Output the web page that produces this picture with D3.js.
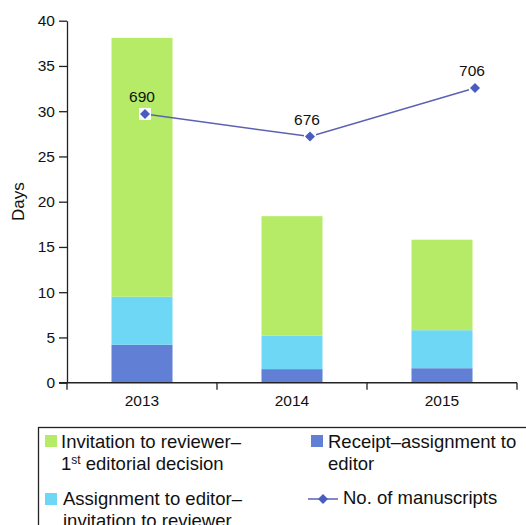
<!DOCTYPE html>
<html>
<head>
<meta charset="utf-8">
<script src="https://cdn.jsdelivr.net/npm/d3@7"></script>
<style>
body { margin: 0; background: #fff; }
svg { display: block; font-family: "Liberation Sans", Arial, sans-serif; }
</style>
</head>
<body>
<div id="chart"></div>
<script>
let years = ['2013', '2014', '2015']
let receipt = [4.2, 1.5, 1.6]
let assignment = [5.3, 3.7, 4.2]
let invitation = [28.6, 13.2, 10.0]
let manuscripts = [690, 676, 706]
let yTicks = [0, 5, 10, 15, 20, 25, 30, 35, 40]

let width = 526, height = 525
let svg = d3.select('#chart').append('svg')
    .attr('width', width)
    .attr('height', height)

let colors = {
    receipt: '#617fd4',
    assignment: '#6dd7f5',
    invitation: '#b5eb67',
    line: '#5b61b3',
    marker: '#4a5cbf'
}

let x = d3.scaleBand()
    .domain(years)
    .range([67, 517])
    .paddingInner(0)
    .paddingOuter(0)

let y = d3.scaleLinear()
    .domain([0, 40])
    .range([382.7, 20.7])

// secondary (hidden) scale for manuscript counts
let y2 = d3.scaleLinear()
    .domain([523.7, 747.7])
    .range([382.7, 20.7])

let xLine = d3.scalePoint()
    .domain(years)
    .range([145, 475])

let rows = years.map((year, i) => ({
    year,
    receipt: receipt[i],
    assignment: assignment[i],
    invitation: invitation[i]
}))

let stack = d3.stack().keys(['receipt', 'assignment', 'invitation'])(rows)
let barWidth = 61

svg.append('g')
    .selectAll('g')
    .data(stack)
    .enter()
    .append('g')
        .attr('fill', d => colors[d.key])
    .selectAll('rect')
    .data(d => d)
    .enter()
    .append('rect')
        .attr('x', d => x(d.data.year) + x.bandwidth() / 2 - barWidth / 2)
        .attr('width', barWidth)
        .attr('y', d => y(d[1]))
        .attr('height', d => y(d[0]) - y(d[1]))

// y axis
let yAxis = svg.append('g')
    .attr('transform', 'translate(67,0)')
    .call(d3.axisLeft(y).tickValues(yTicks).tickSize(8).tickSizeOuter(0).tickPadding(4))
yAxis.select('.domain').attr('stroke', '#222').attr('stroke-width', 1.3)
yAxis.selectAll('.tick line').attr('stroke', '#222').attr('stroke-width', 1.3)
yAxis.selectAll('text')
    .attr('font-family', '"Liberation Sans", Arial, sans-serif')
    .attr('font-size', 15.5)
    .attr('fill', '#111')

// x axis with ticks between categories
let xAxis = svg.append('g')
    .attr('transform', `translate(0,${y(0)})`)
xAxis.append('line')
    .attr('x1', 59).attr('x2', 517)
    .attr('stroke', '#222').attr('stroke-width', 1.5)
let bounds = years.map(d => x(d)).concat([x(years[years.length - 1]) + x.bandwidth()])
xAxis.selectAll('line.sep')
    .data(bounds)
    .enter()
    .append('line')
        .attr('class', 'sep')
        .attr('x1', d => d).attr('x2', d => d)
        .attr('y1', 0).attr('y2', 7)
        .attr('stroke', '#222').attr('stroke-width', 1.3)
xAxis.selectAll('text')
    .data(years)
    .enter()
    .append('text')
        .attr('x', d => x(d) + x.bandwidth() / 2)
        .attr('y', 23)
        .attr('text-anchor', 'middle')
        .attr('font-size', 15.5)
        .attr('fill', '#111')
        .text(d => d)

svg.append('text')
    .attr('transform', `translate(24,${y(20)}) rotate(-90)`)
    .attr('text-anchor', 'middle')
    .attr('font-size', 17)
    .attr('fill', '#111')
    .text('Days')

// manuscripts line
let linePts = years.map((year, i) => ({ year, value: manuscripts[i] }))
svg.append('path')
    .datum(linePts)
    .attr('fill', 'none')
    .attr('stroke', colors.line)
    .attr('stroke-width', 1.5)
    .attr('d', d3.line().x(d => xLine(d.year)).y(d => y2(d.value)))

// square rotated 45deg -> wide diamond like the original marker
let diamond = d3.symbol().type(d3.symbolSquare).size(50)

svg.selectAll('rect.marker-bg')
    .data(linePts)
    .enter()
    .append('rect')
        .attr('class', 'marker-bg')
        .attr('x', d => xLine(d.year) - 6)
        .attr('y', d => y2(d.value) - 6)
        .attr('width', 12)
        .attr('height', 12)
        .attr('fill', '#fff')

svg.selectAll('path.marker')
    .data(linePts)
    .enter()
    .append('path')
        .attr('class', 'marker')
        .attr('d', diamond)
        .attr('transform', d => `translate(${xLine(d.year)},${y2(d.value)}) rotate(45)`)
        .attr('fill', colors.marker)

svg.selectAll('text.point-label')
    .data(linePts)
    .enter()
    .append('text')
        .attr('class', 'point-label')
        .attr('x', d => xLine(d.year) - 3)
        .attr('y', d => y2(d.value) - 12)
        .attr('text-anchor', 'middle')
        .attr('font-size', 15.5)
        .attr('fill', '#111')
        .text(d => d.value)

// legend
let legend = svg.append('g')
legend.append('rect')
    .attr('x', 38.5).attr('y', 427.5)
    .attr('width', 500).attr('height', 120)
    .attr('fill', 'none')
    .attr('stroke', '#222')
    .attr('stroke-width', 1.3)

let legendFont = 18.5
function swatch(px, py, color) {
    legend.append('rect')
        .attr('x', px).attr('y', py)
        .attr('width', 12).attr('height', 12)
        .attr('fill', color)
}
function label(px, py, lines) {
    let t = legend.append('text')
        .attr('font-size', legendFont)
        .attr('fill', '#111')
    lines.forEach((l, i) => {
        let ts = t.append('tspan')
            .attr('x', px)
            .attr('y', py + i * 22)
        if (typeof l === 'string') {
            ts.text(l)
        } else {
            ts.text(l[0])
            ts.append('tspan').attr('font-size', 12).attr('dy', -6).text(l[1])
            ts.append('tspan').attr('dy', 6).text(l[2])
        }
    })
}
swatch(45, 435, colors.invitation)
label(61, 448, ['Invitation to reviewer\u2013', ['1', 'st', ' editorial decision']])
swatch(45, 493, colors.assignment)
label(63, 505, ['Assignment to editor\u2013', 'invitation to reviewer'])
swatch(311, 435, colors.receipt)
label(328, 448, ['Receipt\u2013assignment to', 'editor'])

legend.append('line')
    .attr('x1', 308).attr('x2', 338)
    .attr('y1', 499).attr('y2', 499)
    .attr('stroke', colors.line)
    .attr('stroke-width', 1.5)
legend.append('path')
    .attr('d', diamond)
    .attr('transform', 'translate(323,499) rotate(45)')
    .attr('fill', colors.marker)
label(343, 504, ['No. of manuscripts'])
</script>
</body>
</html>
